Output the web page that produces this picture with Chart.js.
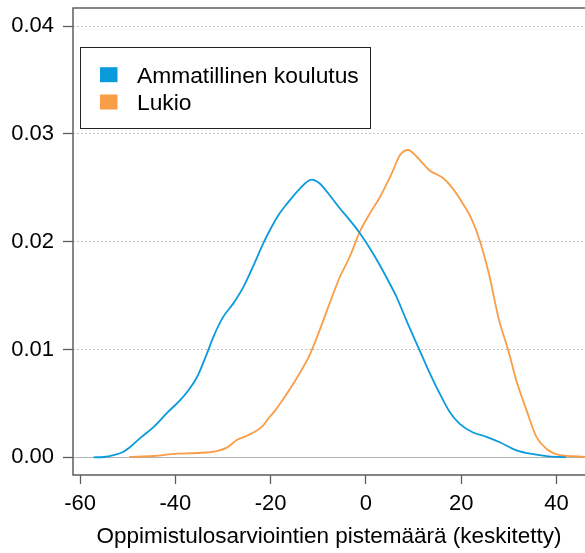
<!DOCTYPE html>
<html>
<head>
<meta charset="utf-8">
<script src="https://cdn.jsdelivr.net/npm/chart.js@4/dist/chart.umd.min.js"></script>
<style>
  html, body { margin: 0; padding: 0; background: #ffffff; }
  #c { display: block; }
</style>
</head>
<body>
<canvas id="c" width="585" height="553"></canvas>
<script>
// ---- data ----
const SERIES_LABELS = ['Ammatillinen koulutus', 'Lukio'];

const AMM_X = [-57.2, -55, -53, -51, -49.5, -47.1, -44.6, -41.8, -39, -37.3, -35.5, -33.4, -32.0, -30.0, -27.8, -25.7, -23.6, -21.7, -20.0, -18.0, -16.6, -13.9, -11.4, -9.7, -7.6, -5.5, -3.4, -1.3, 1.5, 4.3, 6.4, 8.5, 11.3, 13.4, 15.5, 17.6, 19.7, 22.5, 25.3, 28.1, 31.6, 35.1, 37.9, 40.7, 42];
const AMM_Y = [0, 0.00003, 0.0002, 0.0005, 0.00096, 0.0019, 0.0028, 0.0041, 0.0053, 0.0062, 0.0074, 0.0096, 0.0112, 0.0130, 0.0143, 0.0158, 0.0178, 0.0197, 0.0212, 0.0227, 0.0235, 0.0249, 0.02575, 0.0254, 0.0243, 0.0231, 0.0220, 0.0208, 0.0189, 0.0167, 0.0149, 0.0127, 0.0099, 0.0078, 0.0059, 0.0042, 0.0031, 0.0023, 0.0019, 0.0014, 0.00065, 0.0003, 0.00012, 0.00003, 0];

const LUK_X = [-49.7, -44.6, -39.7, -35.5, -31.3, -29.2, -27.1, -25.0, -21.7, -20.3, -19.5, -16.6, -13.9, -11.8, -9.7, -7.6, -5.5, -3.4, -1.3, 0.8, 2.9, 5.4, 7.1, 8.9, 10.6, 13.4, 16.2, 18.3, 20.4, 22.2, 23.9, 26.0, 27.8, 29.9, 31.6, 33.7, 35.8, 37.9, 40.7, 43.5, 46.5];
const LUK_Y = [0.00003, 0.00012, 0.00034, 0.0004, 0.00058, 0.0009, 0.0016, 0.0020, 0.0029, 0.0037, 0.0041, 0.0059, 0.0078, 0.0095, 0.0118, 0.0143, 0.0167, 0.0186, 0.0209, 0.0226, 0.0241, 0.0263, 0.0280, 0.0285, 0.0279, 0.0266, 0.0259, 0.0249, 0.0235, 0.0221, 0.0201, 0.0167, 0.0130, 0.0099, 0.0071, 0.0044, 0.0019, 0.0008, 0.0002, 0.0001, 0.00003];

const X_TICKS = [-60, -40, -20, 0, 20, 40];
const Y_TICKS = [0, 0.01, 0.02, 0.03, 0.04];
const X_TITLE = 'Oppimistulosarviointien pistemäärä (keskitetty)';

// ---- styling ----
const COLORS = ['#0a9bdc', '#f99d47'];
const FAMILY = '"Liberation Sans", Arial, sans-serif';
const FONT = { family: FAMILY, size: 22 };
const TITLE_FONT = { family: FAMILY, size: 22.5 };
const LEGEND_SIZE = 22.8;
const BOX_COLOR = '#5e5e5e';

const toPts = (xs, ys) => xs.map((x, i) => ({ x: x, y: ys[i] }));

const boxPlugin = {
  id: 'rbox',
  afterDraw(chart) {
    const { ctx, chartArea: a } = chart;
    ctx.save();
    ctx.strokeStyle = BOX_COLOR;
    ctx.lineWidth = 1.5;
    ctx.beginPath();
    ctx.moveTo(a.right + 2, a.top);
    ctx.lineTo(a.left, a.top);
    ctx.lineTo(a.left, a.bottom);
    ctx.lineTo(a.right + 2, a.bottom);
    ctx.stroke();
    ctx.restore();
  }
};

const legendPlugin = {
  id: 'rlegend',
  afterDraw(chart) {
    const { ctx } = chart;
    const ds = chart.data.datasets;
    const bx = 80.5, by = 47.5, bw = 290, bh = 81;
    ctx.save();
    ctx.fillStyle = '#ffffff';
    ctx.fillRect(bx, by, bw, bh);
    ctx.strokeStyle = '#222222';
    ctx.lineWidth = 1;
    ctx.strokeRect(bx, by, bw, bh);
    ctx.font = LEGEND_SIZE + 'px ' + FAMILY;
    ctx.textBaseline = 'alphabetic';
    ctx.textAlign = 'left';
    ds.forEach((d, i) => {
      const base = 82.7 + i * 27.3;
      ctx.fillStyle = d.borderColor;
      ctx.fillRect(100, base - 15.5, 17.5, 15);
      ctx.fillStyle = '#000000';
      ctx.fillText(d.label, 137, base);
    });
    ctx.restore();
  }
};

new Chart(document.getElementById('c'), {
  type: 'scatter',
  data: {
    datasets: [
      { label: SERIES_LABELS[0], data: toPts(AMM_X, AMM_Y), borderColor: COLORS[0], backgroundColor: COLORS[0] },
      { label: SERIES_LABELS[1], data: toPts(LUK_X, LUK_Y), borderColor: COLORS[1], backgroundColor: COLORS[1] }
    ]
  },
  options: {
    responsive: false,
    devicePixelRatio: 1,
    animation: false,
    layout: { padding: { left: 0, right: 0, top: 8, bottom: 0 } },
    elements: {
      point: { radius: 0, hoverRadius: 0 },
      line: { borderWidth: 1.8, tension: 0.4, cubicInterpolationMode: 'monotone', fill: false }
    },
    datasets: { scatter: { showLine: true } },
    plugins: { legend: { display: false }, tooltip: { enabled: false } },
    scales: {
      x: {
        type: 'linear',
        min: -61.5,
        max: 46,
        afterBuildTicks: s => { s.ticks = X_TICKS.map(v => ({ value: v })); },
        afterFit: s => { s.height = 78; s.paddingLeft = 0; s.paddingRight = 0; },
        grid: { drawOnChartArea: false, drawTicks: true, tickLength: 9, tickColor: BOX_COLOR, tickWidth: 1.3 },
        border: { display: false },
        ticks: { color: '#000', font: FONT, padding: 7, maxRotation: 0, autoSkip: false, callback: v => String(v) },
        title: { display: true, text: X_TITLE, color: '#000', font: TITLE_FONT, padding: { top: 0, bottom: 3 } }
      },
      y: {
        type: 'linear',
        min: -0.00164,
        max: 0.04167,
        afterBuildTicks: s => { s.ticks = Y_TICKS.map(v => ({ value: v })); },
        afterFit: s => { s.width = 73; s.paddingTop = 0; s.paddingBottom = 0; },
        grid: {
          drawOnChartArea: true,
          drawTicks: true,
          tickLength: 10,
          tickColor: BOX_COLOR,
          tickWidth: 1.3,
          lineWidth: 1,
          color: c => (c.tick && c.tick.value === 0) ? '#b4b4b4' : '#c4c4c4'
        },
        border: {
          display: false,
          dash: c => (c.tick && c.tick.value === 0) ? [] : [2, 2]
        },
        ticks: { color: '#000', font: FONT, padding: 9, callback: v => Number(v).toFixed(2) }
      }
    }
  },
  plugins: [boxPlugin, legendPlugin]
});
</script>
</body>
</html>
